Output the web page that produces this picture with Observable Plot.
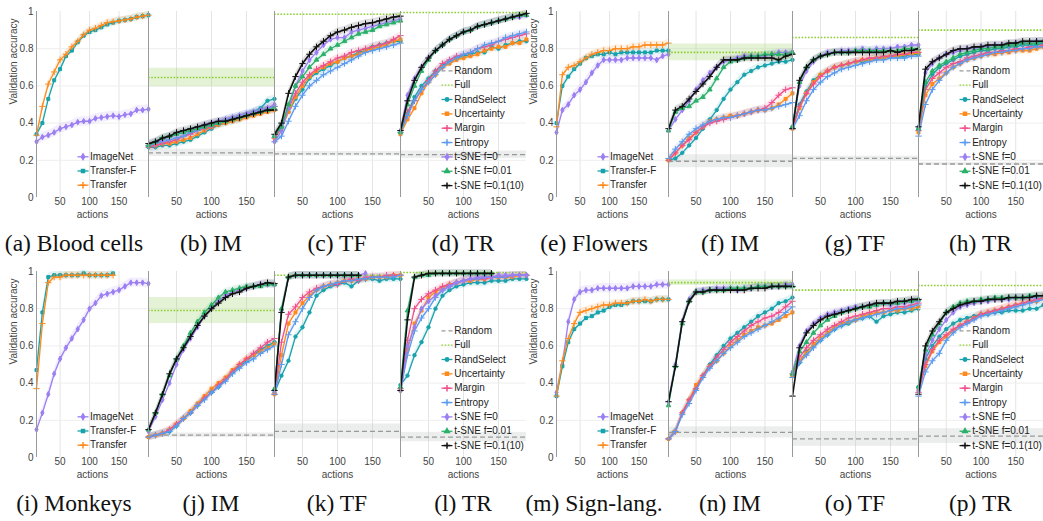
<!DOCTYPE html>
<html><head><meta charset="utf-8">
<script src="https://cdn.jsdelivr.net/npm/d3@7"></script>
<script src="https://cdn.jsdelivr.net/npm/@observablehq/plot@0.6"></script>
<style>
body{margin:0;background:#fff;width:1043px;height:521px;overflow:hidden;position:relative;font-family:"Liberation Sans",Arial,sans-serif}
.cap{position:absolute;font-family:"Liberation Serif","Times New Roman",serif;font-size:23.5px;color:#111;text-align:center;white-space:nowrap;line-height:24px}
svg{position:absolute;overflow:visible}
</style></head><body>
<script>
// ---------- x positions (actions) ----------
const actionsAL = [10,20,30,40,50,60,70,80,90,100,110,120,130,140,150,160,170,180,190];
const actionsTL = [10,20,30,40,50,60,70,80,90,100,110,120,130,140,150,160,170,180,190,200];

// ---------- series names ----------
const tlNames = ["ImageNet","Transfer-F","Transfer"];
const alNames = ["RandSelect","Uncertainty","Margin","Entropy","t-SNE f=0","t-SNE f=0.01","t-SNE f=0.1(10)"];

// ---------- transfer-learning panels (ImageNet, Transfer-F, Transfer) ----------
const bloodTL = [
  [0.30,0.325,0.335,0.35,0.37,0.38,0.39,0.405,0.41,0.41,0.425,0.43,0.435,0.44,0.435,0.445,0.45,0.47,0.47,0.475],
  [0.34,0.40,0.53,0.63,0.69,0.76,0.79,0.835,0.87,0.89,0.90,0.915,0.93,0.94,0.95,0.955,0.96,0.97,0.975,0.98],
  [0.335,0.49,0.61,0.675,0.74,0.77,0.81,0.84,0.875,0.90,0.91,0.925,0.94,0.945,0.95,0.955,0.96,0.97,0.975,0.98]
];
const flowersTL = [
  [0.35,0.47,0.50,0.55,0.58,0.62,0.67,0.71,0.74,0.74,0.74,0.74,0.75,0.75,0.75,0.75,0.75,0.74,0.76,0.77],
  [0.40,0.60,0.65,0.69,0.72,0.75,0.76,0.77,0.77,0.78,0.77,0.78,0.78,0.78,0.78,0.78,0.78,0.79,0.79,0.79],
  [0.38,0.66,0.70,0.71,0.73,0.75,0.77,0.78,0.79,0.79,0.80,0.80,0.80,0.81,0.81,0.82,0.82,0.82,0.82,0.83]
];
const monkeysTL = [
  [0.15,0.24,0.34,0.45,0.53,0.59,0.64,0.69,0.74,0.80,0.83,0.87,0.88,0.89,0.90,0.92,0.94,0.94,0.94,0.935],
  [0.47,0.78,0.97,0.98,0.98,0.98,0.98,0.98,0.99,0.98,0.98,0.98,0.98,0.99],
  [0.37,0.72,0.94,0.97,0.97,0.98,0.98,0.98,0.98,0.98,0.98,0.98,0.98,0.98]
];
const signTL = [
  [0.35,0.50,0.73,0.85,0.89,0.90,0.90,0.91,0.91,0.91,0.91,0.91,0.91,0.92,0.92,0.92,0.92,0.93,0.93,0.93],
  [0.33,0.49,0.62,0.69,0.72,0.75,0.76,0.78,0.79,0.81,0.82,0.82,0.83,0.84,0.84,0.84,0.84,0.85,0.85,0.85],
  [0.33,0.52,0.64,0.72,0.78,0.79,0.80,0.81,0.82,0.82,0.83,0.83,0.83,0.84,0.84,0.85,0.84,0.85,0.85,0.85]
];

// ---------- active-learning panels (order = alNames) ----------
const bloodIM = [
  [0.27,0.27,0.28,0.28,0.29,0.30,0.31,0.33,0.35,0.37,0.39,0.40,0.41,0.42,0.44,0.46,0.48,0.52,0.53],
  [0.28,0.28,0.29,0.29,0.30,0.31,0.32,0.34,0.36,0.38,0.39,0.40,0.41,0.42,0.43,0.44,0.45,0.46,0.47],
  [0.27,0.28,0.29,0.30,0.31,0.33,0.34,0.36,0.37,0.38,0.40,0.41,0.42,0.43,0.44,0.45,0.46,0.48,0.49],
  [0.28,0.29,0.30,0.31,0.32,0.33,0.35,0.36,0.38,0.39,0.40,0.42,0.43,0.44,0.45,0.46,0.47,0.48,0.49],
  [0.28,0.30,0.31,0.33,0.34,0.35,0.36,0.37,0.39,0.40,0.41,0.42,0.43,0.44,0.45,0.46,0.47,0.48,0.50],
  [0.28,0.30,0.32,0.33,0.34,0.35,0.36,0.37,0.38,0.39,0.40,0.41,0.42,0.43,0.44,0.45,0.46,0.47,0.48],
  [0.29,0.30,0.32,0.33,0.35,0.36,0.37,0.38,0.39,0.40,0.41,0.41,0.42,0.43,0.44,0.45,0.46,0.47,0.47]
];
const bloodTF = [
  [0.33,0.39,0.46,0.53,0.58,0.64,0.67,0.69,0.71,0.73,0.75,0.76,0.78,0.79,0.81,0.82,0.83,0.84,0.84],
  [0.32,0.37,0.46,0.54,0.60,0.65,0.68,0.70,0.72,0.73,0.75,0.76,0.77,0.79,0.80,0.81,0.82,0.84,0.85],
  [0.32,0.38,0.48,0.56,0.62,0.66,0.69,0.71,0.73,0.75,0.76,0.78,0.79,0.80,0.81,0.82,0.83,0.85,0.87],
  [0.30,0.33,0.41,0.49,0.55,0.60,0.63,0.66,0.68,0.70,0.72,0.74,0.76,0.78,0.79,0.80,0.81,0.82,0.83],
  [0.30,0.36,0.48,0.60,0.68,0.74,0.78,0.82,0.85,0.86,0.86,0.89,0.90,0.91,0.92,0.93,0.94,0.95,0.96],
  [0.33,0.38,0.50,0.60,0.65,0.70,0.74,0.77,0.80,0.82,0.84,0.86,0.88,0.89,0.90,0.92,0.93,0.94,0.95],
  [0.34,0.40,0.56,0.65,0.72,0.77,0.81,0.84,0.87,0.89,0.90,0.915,0.925,0.935,0.94,0.95,0.96,0.97,0.975]
];
const bloodTR = [
  [0.35,0.45,0.54,0.60,0.64,0.68,0.71,0.73,0.75,0.76,0.77,0.78,0.78,0.81,0.80,0.82,0.83,0.84,0.84],
  [0.34,0.42,0.48,0.56,0.62,0.66,0.70,0.72,0.74,0.75,0.76,0.77,0.79,0.80,0.81,0.81,0.83,0.83,0.85],
  [0.36,0.46,0.52,0.58,0.63,0.68,0.72,0.74,0.76,0.77,0.78,0.80,0.81,0.82,0.84,0.85,0.86,0.87,0.88],
  [0.35,0.44,0.52,0.58,0.62,0.66,0.70,0.73,0.75,0.77,0.78,0.80,0.82,0.83,0.84,0.86,0.87,0.88,0.89],
  [0.36,0.55,0.64,0.70,0.75,0.79,0.82,0.85,0.87,0.89,0.90,0.92,0.93,0.94,0.95,0.96,0.97,0.97,0.98],
  [0.35,0.50,0.60,0.68,0.74,0.79,0.82,0.85,0.87,0.89,0.90,0.92,0.93,0.94,0.95,0.96,0.97,0.98,0.98],
  [0.36,0.52,0.63,0.70,0.75,0.79,0.82,0.85,0.87,0.89,0.90,0.92,0.93,0.94,0.95,0.96,0.97,0.98,0.99]
];
const flowersIM = [
  [0.20,0.21,0.24,0.28,0.32,0.37,0.42,0.47,0.53,0.58,0.62,0.66,0.68,0.70,0.71,0.72,0.73,0.73,0.74],
  [0.20,0.24,0.28,0.32,0.35,0.38,0.41,0.42,0.43,0.44,0.44,0.45,0.46,0.47,0.47,0.48,0.50,0.53,0.56],
  [0.20,0.24,0.28,0.31,0.35,0.38,0.40,0.41,0.42,0.43,0.44,0.45,0.46,0.47,0.48,0.51,0.55,0.58,0.59],
  [0.21,0.26,0.30,0.34,0.37,0.39,0.41,0.42,0.43,0.43,0.44,0.45,0.46,0.47,0.47,0.48,0.49,0.50,0.51],
  [0.36,0.42,0.47,0.52,0.58,0.63,0.67,0.70,0.73,0.74,0.75,0.76,0.76,0.76,0.76,0.77,0.78,0.78,0.78],
  [0.36,0.46,0.48,0.49,0.52,0.54,0.58,0.64,0.70,0.73,0.74,0.75,0.76,0.76,0.77,0.77,0.77,0.77,0.78],
  [0.37,0.47,0.49,0.53,0.57,0.61,0.65,0.70,0.74,0.74,0.74,0.75,0.75,0.75,0.75,0.75,0.74,0.76,0.77]
];
const flowersTF = [
  [0.38,0.50,0.57,0.63,0.66,0.68,0.70,0.71,0.72,0.73,0.73,0.74,0.75,0.75,0.76,0.76,0.76,0.77,0.77],
  [0.37,0.48,0.56,0.62,0.66,0.68,0.70,0.71,0.72,0.73,0.74,0.74,0.75,0.75,0.76,0.76,0.77,0.77,0.78],
  [0.37,0.49,0.56,0.61,0.65,0.68,0.70,0.71,0.72,0.73,0.74,0.75,0.75,0.76,0.76,0.77,0.77,0.78,0.78],
  [0.37,0.44,0.52,0.58,0.62,0.65,0.67,0.69,0.70,0.71,0.72,0.73,0.74,0.74,0.75,0.75,0.75,0.76,0.76],
  [0.38,0.60,0.68,0.73,0.76,0.78,0.78,0.79,0.79,0.79,0.80,0.79,0.80,0.80,0.80,0.81,0.81,0.82,0.82],
  [0.38,0.62,0.70,0.74,0.76,0.77,0.78,0.78,0.78,0.79,0.79,0.79,0.79,0.79,0.79,0.79,0.80,0.80,0.80],
  [0.37,0.63,0.70,0.74,0.76,0.77,0.78,0.78,0.78,0.78,0.78,0.78,0.78,0.78,0.79,0.78,0.79,0.79,0.80]
];
const flowersTR = [
  [0.37,0.60,0.66,0.70,0.72,0.74,0.76,0.77,0.78,0.79,0.79,0.80,0.80,0.81,0.81,0.82,0.82,0.82,0.83],
  [0.35,0.55,0.61,0.64,0.67,0.70,0.72,0.74,0.75,0.76,0.77,0.77,0.78,0.78,0.79,0.79,0.79,0.80,0.81],
  [0.36,0.58,0.64,0.67,0.70,0.72,0.73,0.75,0.76,0.77,0.78,0.78,0.79,0.79,0.80,0.80,0.81,0.81,0.82],
  [0.33,0.50,0.58,0.63,0.67,0.70,0.72,0.74,0.75,0.76,0.77,0.78,0.78,0.79,0.79,0.80,0.80,0.81,0.81],
  [0.38,0.67,0.72,0.75,0.77,0.78,0.79,0.80,0.80,0.81,0.81,0.82,0.82,0.82,0.83,0.83,0.83,0.84,0.84],
  [0.37,0.62,0.68,0.71,0.73,0.75,0.77,0.78,0.79,0.80,0.80,0.81,0.81,0.82,0.82,0.83,0.83,0.83,0.84],
  [0.38,0.69,0.73,0.75,0.77,0.79,0.80,0.80,0.81,0.81,0.82,0.82,0.82,0.83,0.83,0.84,0.84,0.84,0.84]
];
const monkeysIM = [
  [0.11,0.12,0.13,0.14,0.17,0.21,0.24,0.28,0.32,0.35,0.38,0.42,0.46,0.49,0.52,0.55,0.58,0.60,0.62],
  [0.11,0.12,0.13,0.15,0.18,0.21,0.25,0.29,0.33,0.37,0.40,0.43,0.47,0.50,0.53,0.55,0.57,0.59,0.61],
  [0.11,0.12,0.13,0.15,0.18,0.21,0.24,0.28,0.32,0.35,0.39,0.42,0.46,0.50,0.53,0.56,0.59,0.62,0.64],
  [0.11,0.12,0.13,0.14,0.17,0.21,0.24,0.28,0.31,0.35,0.38,0.41,0.45,0.48,0.51,0.53,0.56,0.58,0.60],
  [0.14,0.22,0.31,0.40,0.50,0.58,0.64,0.70,0.76,0.80,0.84,0.87,0.89,0.90,0.91,0.92,0.93,0.93,0.93],
  [0.15,0.24,0.34,0.44,0.53,0.60,0.67,0.73,0.78,0.82,0.86,0.89,0.90,0.91,0.92,0.92,0.92,0.93,0.93],
  [0.15,0.24,0.34,0.45,0.53,0.59,0.65,0.71,0.76,0.80,0.83,0.86,0.88,0.89,0.91,0.92,0.93,0.94,0.935]
];
const monkeysTF = [
  [0.35,0.44,0.52,0.65,0.70,0.78,0.87,0.90,0.92,0.93,0.94,0.92,0.95,0.96,0.96,0.95,0.96,0.96,0.96],
  [0.34,0.55,0.72,0.78,0.83,0.87,0.90,0.92,0.93,0.94,0.95,0.95,0.96,0.96,0.97,0.97,0.97,0.98,0.98],
  [0.34,0.62,0.77,0.81,0.86,0.89,0.91,0.92,0.93,0.93,0.95,0.96,0.95,0.97,0.97,0.97,0.98,0.98,0.98],
  [0.34,0.50,0.66,0.73,0.80,0.86,0.90,0.92,0.93,0.94,0.95,0.95,0.96,0.96,0.97,0.97,0.97,0.97,0.98],
  [0.36,0.79,0.97,0.98,0.98,0.98,0.98,0.98,0.98,0.98,0.98,0.98,0.98,0.99],
  [0.37,0.80,0.97,0.98,0.98,0.98,0.98,0.98,0.98,0.98,0.98,0.98,0.98],
  [0.36,0.78,0.97,0.98,0.98,0.98,0.98,0.98,0.98,0.98,0.98,0.98,0.98]
];
const monkeysTR = [
  [0.39,0.44,0.55,0.62,0.70,0.80,0.87,0.90,0.92,0.93,0.94,0.94,0.94,0.95,0.95,0.95,0.96,0.96,0.96],
  [0.36,0.58,0.72,0.79,0.86,0.89,0.91,0.93,0.94,0.95,0.95,0.96,0.96,0.97,0.97,0.97,0.97,0.98,0.98],
  [0.37,0.63,0.80,0.85,0.88,0.90,0.92,0.93,0.94,0.95,0.96,0.96,0.96,0.97,0.97,0.97,0.98,0.98,0.98],
  [0.36,0.55,0.68,0.75,0.80,0.86,0.90,0.92,0.94,0.95,0.96,0.96,0.97,0.97,0.97,0.97,0.98,0.98,0.98],
  [0.36,0.60,0.70,0.80,0.84,0.87,0.90,0.92,0.94,0.95,0.96,0.97,0.97,0.97,0.98,0.98,0.98,0.98,0.98],
  [0.38,0.79,0.97,0.98,0.98,0.99,0.99,0.99,0.99,0.99,0.99,0.99,0.99,0.99],
  [0.36,0.74,0.97,0.98,0.99,0.99,0.99,0.99,0.99,0.99,0.99,0.99,0.99,0.99]
];
const signIM = [
  [0.10,0.14,0.24,0.31,0.37,0.44,0.50,0.55,0.60,0.64,0.67,0.70,0.73,0.76,0.78,0.80,0.83,0.84,0.86],
  [0.10,0.14,0.24,0.31,0.39,0.44,0.49,0.52,0.56,0.60,0.63,0.66,0.68,0.70,0.71,0.72,0.74,0.76,0.78],
  [0.10,0.14,0.24,0.31,0.37,0.44,0.49,0.54,0.58,0.62,0.65,0.68,0.71,0.73,0.75,0.76,0.78,0.81,0.84],
  [0.10,0.14,0.23,0.29,0.36,0.43,0.48,0.52,0.56,0.59,0.62,0.65,0.67,0.69,0.71,0.73,0.75,0.78,0.81],
  [0.30,0.50,0.73,0.85,0.89,0.90,0.90,0.91,0.91,0.91,0.90,0.91,0.91,0.92,0.92,0.92,0.92,0.93,0.93],
  [0.28,0.49,0.72,0.84,0.89,0.89,0.90,0.90,0.90,0.91,0.91,0.91,0.91,0.92,0.92,0.92,0.92,0.92,0.92],
  [0.30,0.49,0.73,0.84,0.89,0.89,0.90,0.90,0.90,0.90,0.90,0.90,0.91,0.91,0.91,0.92,0.92,0.92,0.92]
];
const signTF = [
  [0.44,0.51,0.57,0.60,0.63,0.66,0.69,0.71,0.72,0.74,0.75,0.76,0.73,0.76,0.77,0.78,0.78,0.79,0.80],
  [0.44,0.52,0.56,0.61,0.64,0.67,0.70,0.72,0.73,0.74,0.76,0.77,0.78,0.78,0.79,0.79,0.80,0.80,0.81],
  [0.45,0.54,0.59,0.63,0.66,0.69,0.71,0.73,0.75,0.76,0.77,0.78,0.79,0.80,0.80,0.81,0.81,0.82,0.83],
  [0.43,0.51,0.55,0.59,0.63,0.66,0.69,0.71,0.73,0.74,0.75,0.76,0.77,0.78,0.79,0.80,0.80,0.81,0.82],
  [0.46,0.60,0.68,0.72,0.75,0.77,0.78,0.79,0.80,0.81,0.81,0.82,0.82,0.83,0.82,0.83,0.83,0.84,0.84],
  [0.45,0.57,0.62,0.67,0.71,0.74,0.76,0.78,0.79,0.80,0.81,0.81,0.82,0.83,0.83,0.83,0.84,0.84,0.85],
  [0.33,0.59,0.67,0.71,0.74,0.76,0.77,0.78,0.79,0.80,0.81,0.82,0.83,0.83,0.83,0.84,0.84,0.85,0.85]
];
const signTR = [
  [0.38,0.53,0.60,0.65,0.69,0.72,0.74,0.75,0.76,0.77,0.77,0.78,0.78,0.79,0.79,0.79,0.80,0.80,0.82],
  [0.36,0.49,0.57,0.62,0.65,0.68,0.71,0.73,0.75,0.77,0.78,0.79,0.80,0.81,0.82,0.83,0.84,0.84,0.86],
  [0.35,0.50,0.58,0.63,0.66,0.69,0.71,0.73,0.75,0.77,0.78,0.79,0.80,0.81,0.82,0.83,0.84,0.85,0.86],
  [0.33,0.46,0.52,0.56,0.63,0.67,0.70,0.72,0.74,0.76,0.77,0.78,0.79,0.80,0.81,0.82,0.83,0.84,0.85],
  [0.36,0.55,0.63,0.69,0.74,0.78,0.81,0.82,0.83,0.84,0.84,0.85,0.85,0.85,0.86,0.86,0.86,0.86,0.87],
  [0.38,0.58,0.66,0.72,0.78,0.81,0.83,0.84,0.84,0.85,0.85,0.86,0.86,0.86,0.86,0.86,0.87,0.87,0.87],
  [0.34,0.60,0.68,0.73,0.78,0.80,0.82,0.83,0.84,0.84,0.85,0.85,0.85,0.86,0.86,0.86,0.86,0.87,0.87]
];

// ---------- baselines: Full (upper bound) and Random (chance), with spread ----------
const fullAcc    = {b:0.645,c:0.985,d:0.995,f:0.78,g:0.86,h:0.90,j:0.79,k:0.98,l:0.995,n:0.94,o:0.90,p:0.925};
const fullSpread = {b:0.05,c:0,d:0,f:0.045,g:0,h:0,j:0.07,k:0,l:0,n:0.015,o:0,p:0};
const randAcc    = {b:0.24,c:0.235,d:0.23,f:0.195,g:0.21,h:0.18,j:0.12,k:0.14,l:0.11,n:0.135,o:0.10,p:0.115};
const randSpread = {b:0.02,c:0.012,d:0.02,f:0.035,g:0.012,h:0.008,j:0.012,k:0.04,l:0.025,n:0.03,o:0.04,p:0.04};

// per-series spread (shaded confidence)
const tlSpread = [0.025,0.02,0.02];
const alSpread = [0.02,0.02,0.02,0.02,0.02,0.02,0.02];

// ---------- styling ----------
const tlColors = ["#9b7ff2","#18a2ab","#ff8a1c"];
const alColors = ["#18a2ab","#ff8a1c","#f0508c","#5a9af0","#9b7ff2","#2bb06a","#111111"];
const tlSymbols = ["diamond","square","plus"];
const alSymbols = ["circle","square","plus","plus","diamond","triangle","plus"];

const panels = [
  {id:"a", cap:"(a) Blood cells", kind:"tl", data:bloodTL,   left:0,   top:5,   width:148},
  {id:"b", cap:"(b) IM",          kind:"al", data:bloodIM,   left:148, top:5,   width:126},
  {id:"c", cap:"(c) TF",          kind:"al", data:bloodTF,   left:274, top:5,   width:126},
  {id:"d", cap:"(d) TR",          kind:"al", data:bloodTR,   left:400, top:5,   width:126, legend:true},
  {id:"e", cap:"(e) Flowers",     kind:"tl", data:flowersTL, left:520, top:5,   width:148},
  {id:"f", cap:"(f) IM",          kind:"al", data:flowersIM, left:668, top:5,   width:124},
  {id:"g", cap:"(g) TF",          kind:"al", data:flowersTF, left:792, top:5,   width:126},
  {id:"h", cap:"(h) TR",          kind:"al", data:flowersTR, left:918, top:5,   width:125, legend:true},
  {id:"i", cap:"(i) Monkeys",     kind:"tl", data:monkeysTL, left:0,   top:265, width:148},
  {id:"j", cap:"(j) IM",          kind:"al", data:monkeysIM, left:148, top:265, width:126},
  {id:"k", cap:"(k) TF",          kind:"al", data:monkeysTF, left:274, top:265, width:126},
  {id:"l", cap:"(l) TR",          kind:"al", data:monkeysTR, left:400, top:265, width:126, legend:true},
  {id:"m", cap:"(m) Sign-lang.",  kind:"tl", data:signTL,    left:520, top:265, width:148},
  {id:"n", cap:"(n) IM",          kind:"al", data:signIM,    left:668, top:265, width:124},
  {id:"o", cap:"(o) TF",          kind:"al", data:signTF,    left:792, top:265, width:126},
  {id:"p", cap:"(p) TR",          kind:"al", data:signTR,    left:918, top:265, width:125, legend:true}
];

const MT = 6, PH = 186, MB = 25;
const FONT = "Liberation Sans, Arial, Helvetica, sans-serif";

function buildPanel(p) {
  const tl = p.kind === "tl";
  const xs = tl ? actionsTL : actionsAL;
  const names = tl ? tlNames : alNames;
  const colors = tl ? tlColors : alColors;
  const symbols = tl ? tlSymbols : alSymbols;
  const spreads = tl ? tlSpread : alSpread;
  const ml = tl ? 36 : 0;
  const xd = [xs[0], xs[xs.length - 1]];
  const pw = p.width - ml;
  const rel2x = r => xd[0] + r * (xd[1] - xd[0]) / pw;
  const py2y = py => 1 - py / PH; // py measured from frame top

  const marks = [
    Plot.gridX({ticks:[50,100,150], stroke:"#e4e4e4", strokeOpacity:1}),
    Plot.gridY({ticks:[0.2,0.4,0.6,0.8], stroke:"#eeeeee", strokeOpacity:1})
  ];

  if (!tl) {
    const id = p.id;
    if (fullSpread[id] > 0) marks.push(Plot.rect([{x1:xd[0], x2:xd[1], y1:fullAcc[id]-fullSpread[id], y2:fullAcc[id]+fullSpread[id]}], {x1:"x1", x2:"x2", y1:"y1", y2:"y2", fill:"#9ed26a", fillOpacity:0.28}));
    if (randSpread[id] > 0) marks.push(Plot.rect([{x1:xd[0], x2:xd[1], y1:randAcc[id]-randSpread[id], y2:randAcc[id]+randSpread[id]}], {x1:"x1", x2:"x2", y1:"y1", y2:"y2", fill:"#bfc4c4", fillOpacity:0.3}));
  }

  const seriesRows = p.data.map((vals, k) => vals.map((v, i) => ({x: xs[i], y: v, lo: v - spreads[k], hi: v + spreads[k]})));
  seriesRows.forEach((rows, k) => {
    marks.push(Plot.areaY(rows, {x:"x", y1:"lo", y2:"hi", fill: colors[k], fillOpacity: 0.13}));
  });

  if (!tl) {
    const id = p.id;
    marks.push(Plot.ruleY([randAcc[id]], {stroke:"#999999", strokeDasharray:"5,3", strokeWidth:1.3}));
    marks.push(Plot.ruleY([fullAcc[id]], {stroke:"#8ccf2e", strokeDasharray:"1.6,1.6", strokeWidth:1.6}));
  }

  seriesRows.forEach((rows, k) => {
    const c = colors[k];
    marks.push(Plot.line(rows, {x:"x", y:"y", stroke:c, strokeWidth: c === "#111111" ? 1.6 : 1.3}));
    marks.push(Plot.dot(rows, {x:"x", y:"y", symbol: symbols[k], r: symbols[k] === "plus" ? 2.2 : 1.7, fill:c, stroke:c, strokeWidth:1}));
  });

  // left frame / axis line
  marks.push(Plot.ruleX([xd[0]], {stroke:"#9a9a9a", strokeWidth:1}));

  // x axis
  marks.push(Plot.axisX({ticks:[50,100,150], tickSize:0, tickPadding:0.5, fontSize:10, label:null, fill:"#444"}));
  marks.push(Plot.text(["actions"], {frameAnchor:"bottom", dy:20, fontSize:10, fill:"#444"}));

  if (tl) {
    marks.push(Plot.axisY({ticks:[0,0.2,0.4,0.6,0.8,1], tickFormat: d => String(+d.toFixed(1)), tickSize:0, tickPadding:3, fontSize:10, label:null, fill:"#444"}));
    marks.push(Plot.text(["Validation accuracy"], {frameAnchor:"left", dx:-23, rotate:-90, fontSize:10, fill:"#444"}));
    // legend
    const items = tlNames.map((n, k) => ({label:n, color:tlColors[k], symbol:tlSymbols[k],
      x1: rel2x(41), x2: rel2x(52), xm: rel2x(46.5), xt: rel2x(53.5), y: py2y(145.3 + k*14.2)}));
    items.forEach(it => {
      marks.push(Plot.link([it], {x1:"x1", x2:"x2", y1:"y", y2:"y", stroke:it.color, strokeWidth:1.3}));
      marks.push(Plot.dot([it], {x:"xm", y:"y", symbol:it.symbol, r: it.symbol === "plus" ? 2.2 : 1.7, fill:it.color, stroke:it.color}));
    });
    marks.push(Plot.text(items, {x:"xt", y:"y", text:"label", textAnchor:"start", fontSize:10, fill:"#222"}));
  }

  if (p.legend) {
    const labels = ["Random","Full", ...alNames];
    const cols = ["#999999","#8ccf2e", ...alColors];
    const syms = [null, null, ...alSymbols];
    const dashes = ["4,3","1.6,1.6", null,null,null,null,null,null,null];
    const items = labels.map((n, k) => ({label:n, color:cols[k], symbol:syms[k], dash:dashes[k],
      x1: rel2x(41), x2: rel2x(52), xm: rel2x(46.5), xt: rel2x(53.7), y: py2y(59.3 + k*14.35)}));
    items.forEach(it => {
      const o = {x1:"x1", x2:"x2", y1:"y", y2:"y", stroke:it.color, strokeWidth:1.3};
      if (it.dash) o.strokeDasharray = it.dash;
      marks.push(Plot.link([it], o));
      if (it.symbol) marks.push(Plot.dot([it], {x:"xm", y:"y", symbol:it.symbol, r: it.symbol === "plus" ? 2.2 : 1.7, fill:it.color, stroke:it.color}));
    });
    marks.push(Plot.text(items, {x:"xt", y:"y", text:"label", textAnchor:"start", fontSize:10, fill:"#222"}));
  }

  const svg = Plot.plot({
    width: p.width, height: MT + PH + MB,
    marginTop: MT, marginBottom: MB, marginLeft: ml, marginRight: 0,
    x: {domain: xd, axis: null},
    y: {domain: [0, 1], axis: null},
    style: {fontFamily: FONT, fontSize: "10px", color: "#444", background: "transparent", overflow: "visible"},
    marks
  });
  svg.style.position = "absolute";
  svg.style.left = p.left + "px";
  svg.style.top = p.top + "px";
  document.body.appendChild(svg);

  const cap = document.createElement("div");
  cap.className = "cap";
  cap.textContent = p.cap;
  cap.style.left = (p.left) + "px";
  cap.style.width = p.width + "px";
  cap.style.top = (p.top + 226) + "px";
  document.body.appendChild(cap);
}

panels.forEach(buildPanel);
</script>
</body></html>
